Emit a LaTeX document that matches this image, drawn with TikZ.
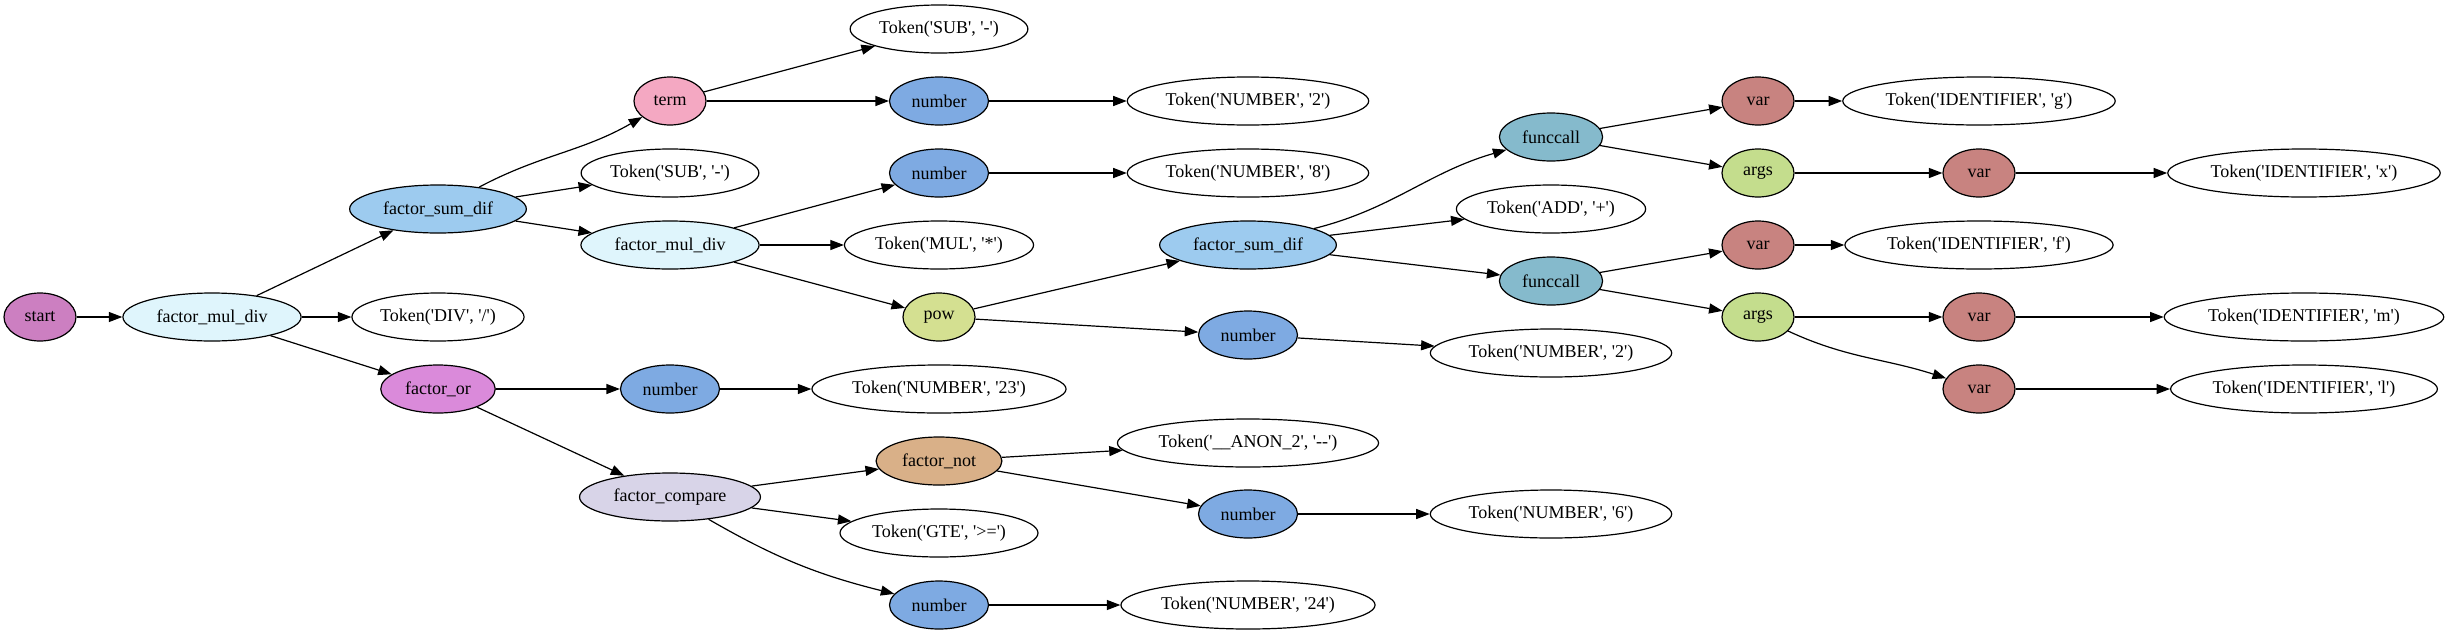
\documentclass[tikz,border=0pt]{standalone}
\usepackage{fontspec}
\setmainfont{Liberation Serif}[Ligatures=TeXOff]
\usetikzlibrary{shapes.geometric,arrows.meta}

\definecolor{startc}{HTML}{CC7FC1}
\definecolor{muldivc}{HTML}{DFF5FC}
\definecolor{sumdifc}{HTML}{9DCBEF}
\definecolor{orc}{HTML}{DA8ADA}
\definecolor{termc}{HTML}{F4A8C2}
\definecolor{numc}{HTML}{7EAAE2}
\definecolor{powc}{HTML}{D4E091}
\definecolor{cmpc}{HTML}{D8D4E8}
\definecolor{notc}{HTML}{D9B088}
\definecolor{callc}{HTML}{85BACC}
\definecolor{varc}{HTML}{C88380}
\definecolor{argsc}{HTML}{C4DD8D}

\tikzset{ast/.style = {ellipse, draw, line width=1.2pt, minimum width=72pt, minimum height=48pt,
                       inner xsep=7.5pt, inner ysep=2pt, font=\fontsize{18}{20}\selectfont},
         tok/.style = {ast, fill=white, inner xsep=3pt},
         link/.style = {-{Triangle[length=13.5pt,width=10pt]}, line width=1.2pt}}

\begin{document}
\begin{tikzpicture}[x=1pt, y=1pt]
      \useasboundingbox (0,0) rectangle (2450,-635);
      % rank 0 to 2
      \node [ast, fill=startc] (start) at (40,-317) {start};
      \node [ast, fill=muldivc] (fmdA) at (212,-317) {factor\_mul\_div};
      \node [ast, fill=sumdifc] (fsdA) at (438,-209) {factor\_sum\_dif};
      \node [tok] (div) at (438,-317) {Token('DIV', '/')};
      \node [ast, fill=orc] (for) at (438,-389) {factor\_or};
      % rank 3
      \node [ast, fill=termc] (term) at (670,-101) {term};
      \node [tok] (subB) at (670,-173) {Token('SUB', '-')};
      \node [ast, fill=muldivc] (fmdB) at (670,-245) {factor\_mul\_div};
      \node [ast, fill=numc] (numT) at (670,-389) {number};
      \node [ast, fill=cmpc] (fcmp) at (670,-497) {factor\_compare};
      % rank 4
      \node [tok] (subA) at (939,-29) {Token('SUB', '-')};
      \node [ast, fill=numc] (numA) at (939,-101) {number};
      \node [ast, fill=numc] (numB) at (939,-173) {number};
      \node [tok] (mul) at (939,-245) {Token('MUL', '*')};
      \node [ast, fill=powc] (pow) at (939,-317) {pow};
      \node [tok] (tokT) at (939,-389) {Token('NUMBER', '23')};
      \node [ast, fill=notc] (fnot) at (939,-461) {factor\_not};
      \node [tok] (gte) at (939,-533) {Token('GTE', '>=')};
      \node [ast, fill=numc] (numF) at (939,-605) {number};
      % rank 5
      \node [tok] (tokA) at (1248,-101) {Token('NUMBER', '2')};
      \node [tok] (tokB) at (1248,-173) {Token('NUMBER', '8')};
      \node [ast, fill=sumdifc] (fsdB) at (1248,-245) {factor\_sum\_dif};
      \node [ast, fill=numc] (numC) at (1248,-335) {number};
      \node [tok] (anon) at (1248,-443) {Token('\_\_ANON\_2', '--')};
      \node [ast, fill=numc] (numE) at (1248,-514) {number};
      \node [tok] (tokF) at (1248,-605) {Token('NUMBER', '24')};
      % rank 6
      \node [ast, fill=callc] (callA) at (1551,-137) {funccall};
      \node [tok] (add) at (1551,-209) {Token('ADD', '+')};
      \node [ast, fill=callc] (callB) at (1551,-281) {funccall};
      \node [tok] (tokC) at (1551,-353) {Token('NUMBER', '2')};
      \node [tok] (tokE) at (1551,-514) {Token('NUMBER', '6')};
      % rank 7 to 9
      \node [ast, fill=varc] (varG) at (1758,-101) {var};
      \node [ast, fill=argsc] (argsA) at (1758,-173) {args};
      \node [ast, fill=varc] (varF) at (1758,-245) {var};
      \node [ast, fill=argsc] (argsB) at (1758,-317) {args};
      \node [tok] (idG) at (1979,-101) {Token('IDENTIFIER', 'g')};
      \node [ast, fill=varc] (varX) at (1979,-173) {var};
      \node [tok] (idF) at (1979,-245) {Token('IDENTIFIER', 'f')};
      \node [ast, fill=varc] (varM) at (1979,-317) {var};
      \node [ast, fill=varc] (varL) at (1979,-389) {var};
      \node [tok] (idX) at (2304,-173) {Token('IDENTIFIER', 'x')};
      \node [tok] (idM) at (2304,-317) {Token('IDENTIFIER', 'm')};
      \node [tok] (idL) at (2304,-389) {Token('IDENTIFIER', 'l')};

      % edges
      \draw [link] (start) -- (fmdA);
      \draw [link] (fmdA) -- (fsdA);
      \draw [link] (fmdA) -- (div);
      \draw [link] (fmdA) -- (for);
      \draw [link] (fsdA) to[out=28, in=210] (term);
      \draw [link] (fsdA) -- (subB);
      \draw [link] (fsdA) -- (fmdB);
      \draw [link] (term) -- (subA);
      \draw [link] (term) -- (numA);
      \draw [link] (numA) -- (tokA);
      \draw [link] (fmdB) -- (numB);
      \draw [link] (fmdB) -- (mul);
      \draw [link] (fmdB) -- (pow);
      \draw [link] (numB) -- (tokB);
      \draw [link] (pow) -- (fsdB);
      \draw [link] (pow) -- (numC);
      \draw [link] (numC) -- (tokC);
      \draw [link] (fsdB) to[out=14, in=196] (callA);
      \draw [link] (fsdB) -- (add);
      \draw [link] (fsdB) -- (callB);
      \draw [link] (callA) -- (varG);
      \draw [link] (callA) -- (argsA);
      \draw [link] (varG) -- (idG);
      \draw [link] (argsA) -- (varX);
      \draw [link] (varX) -- (idX);
      \draw [link] (callB) -- (varF);
      \draw [link] (callB) -- (argsB);
      \draw [link] (varF) -- (idF);
      \draw [link] (argsB) -- (varM);
      \draw [link] (argsB) to[out=-25, in=162] (varL);
      \draw [link] (varM) -- (idM);
      \draw [link] (varL) -- (idL);
      \draw [link] (for) -- (numT);
      \draw [link] (for) -- (fcmp);
      \draw [link] (numT) -- (tokT);
      \draw [link] (fcmp) -- (fnot);
      \draw [link] (fcmp) -- (gte);
      \draw [link] (fcmp) to[out=-30, in=166] (numF);
      \draw [link] (fnot) -- (anon);
      \draw [link] (fnot) -- (numE);
      \draw [link] (numE) -- (tokE);
      \draw [link] (numF) -- (tokF);
\end{tikzpicture}
\end{document}
